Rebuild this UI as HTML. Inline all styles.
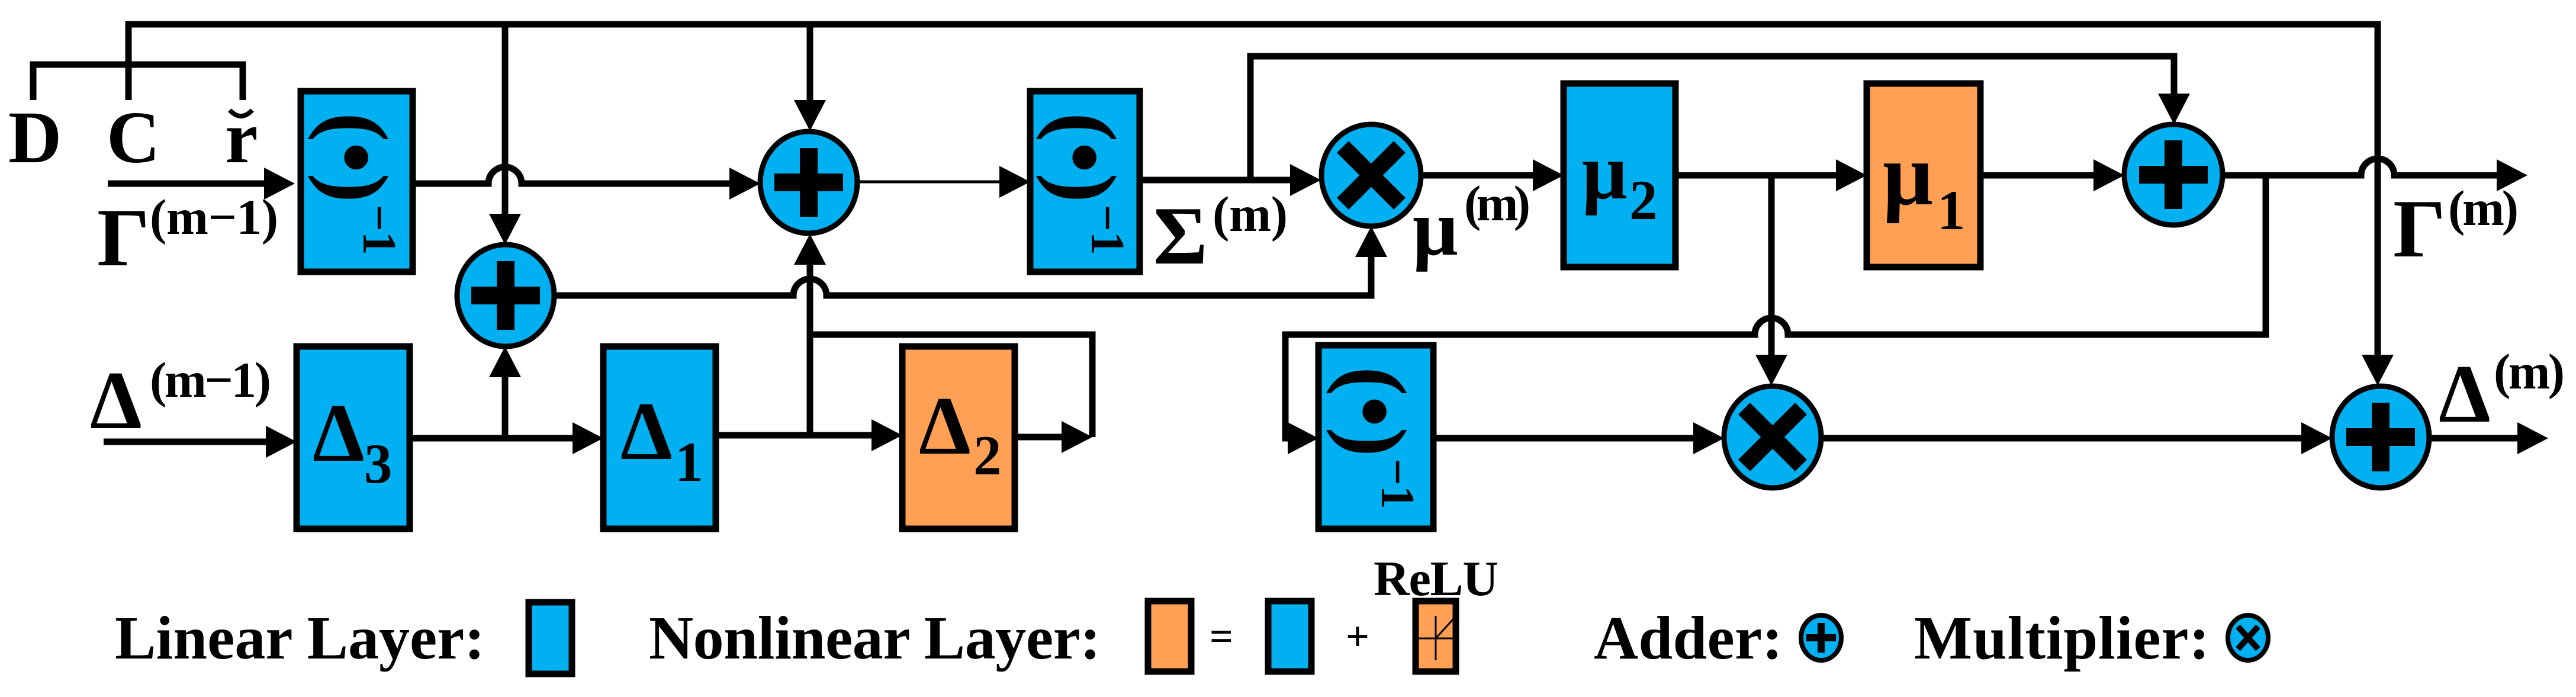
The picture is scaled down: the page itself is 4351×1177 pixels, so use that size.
<!DOCTYPE html>
<html><head><meta charset="utf-8"><style>
html,body{margin:0;padding:0;background:#fff;}
svg{display:block;}
text{font-family:"Liberation Serif",serif;font-weight:bold;fill:#000;}
</style></head><body>
<svg width="4351" height="1177" viewBox="0 0 4351 1177" xmlns="http://www.w3.org/2000/svg">
<defs>
<polygon id="ah" points="0,0 -52,-27 -52,27" fill="#000"/>
</defs>
<g fill="none" stroke="#000" stroke-width="11" stroke-linejoin="miter">
<path d="M217,169 V41 H4016 V610"/>
<path d="M853,41 V370"/>
<path d="M1368,41 V180"/>
<path d="M56,169 V109 H410 V169"/>
<path d="M182,310 H460"/>
<path d="M697,310 H825 a28,28 0 0 1 56,0 H1245"/>
<path d="M1448,307 H1700" stroke-width="5"/>
<path d="M1925,304 H2190"/>
<path d="M2112,304 V95 H3672 V170"/>
<path d="M937,499 H1340 a28,28 0 0 1 56,0 H2316 V425"/>
<path d="M175,746 H460"/>
<path d="M692,740 H980"/>
<path d="M853,740 V628"/>
<path d="M1209,735 H1485"/>
<path d="M1368,735 V438"/>
<path d="M1368,565 H1845 V738"/>
<path d="M1714,738 H1800"/>
<path d="M2400,296 H2600"/>
<path d="M2830,296 H3115"/>
<path d="M2992,296 V612"/>
<path d="M3345,296 H3550"/>
<path d="M3754,296 H3988 a28,28 0 0 1 56,0 H4230"/>
<path d="M3827,296 V565 H3020 a28,28 0 0 0 -56,0 H2171 V740 H2190"/>
<path d="M2421,740 H2870"/>
<path d="M3076,740 H3900"/>
<path d="M4103,740 H4265"/>
</g>
<use href="#ah" transform="translate(498,310)"/>
<use href="#ah" transform="translate(853,413) rotate(90)"/>
<use href="#ah" transform="translate(1368,221) rotate(90)"/>
<use href="#ah" transform="translate(1284,310)"/>
<use href="#ah" transform="translate(1740,307)"/>
<use href="#ah" transform="translate(2231,304)"/>
<use href="#ah" transform="translate(3672,210) rotate(90)"/>
<use href="#ah" transform="translate(2316,382) rotate(-90)"/>
<use href="#ah" transform="translate(501,746)"/>
<use href="#ah" transform="translate(1019,740)"/>
<use href="#ah" transform="translate(853,585) rotate(-90)"/>
<use href="#ah" transform="translate(1524,735)"/>
<use href="#ah" transform="translate(1368,395) rotate(-90)"/>
<use href="#ah" transform="translate(1845,738)"/>
<use href="#ah" transform="translate(2641,296)"/>
<use href="#ah" transform="translate(3153,296)"/>
<use href="#ah" transform="translate(2992,651) rotate(90)"/>
<use href="#ah" transform="translate(3588,296)"/>
<use href="#ah" transform="translate(4016,651) rotate(90)"/>
<use href="#ah" transform="translate(4269,296)"/>
<use href="#ah" transform="translate(2227,740)"/>
<use href="#ah" transform="translate(2912,740)"/>
<use href="#ah" transform="translate(3939,740)"/>
<use href="#ah" transform="translate(4304,740)"/>

<g stroke="#000" stroke-width="11">
<rect x="508" y="154" width="189" height="305" fill="#00B0F0"/>
<rect x="1740" y="154" width="185" height="305" fill="#00B0F0"/>
<rect x="501" y="585" width="191" height="308" fill="#00B0F0"/>
<rect x="1019" y="585" width="190" height="308" fill="#00B0F0"/>
<rect x="1524" y="585" width="190" height="308" fill="#FFA055"/>
<rect x="2641" y="141" width="189" height="310" fill="#00B0F0"/>
<rect x="3153" y="141" width="192" height="310" fill="#FFA055"/>
<rect x="2227" y="583" width="194" height="310" fill="#00B0F0"/>
</g>
<g stroke="#000" stroke-width="9" fill="#00B0F0">
<ellipse cx="854" cy="499" rx="82" ry="86"/>
<ellipse cx="1366" cy="308" rx="82" ry="86"/>
<ellipse cx="2316" cy="296" rx="84" ry="86"/>
<ellipse cx="3671" cy="295" rx="83" ry="85"/>
<ellipse cx="2994" cy="738" rx="82" ry="86"/>
<ellipse cx="4021" cy="738" rx="82" ry="86"/>
</g>
<g fill="#000">
<rect x="839" y="441" width="30" height="116"/><rect x="796" y="484" width="116" height="30"/>
<rect x="1351" y="250" width="30" height="116"/><rect x="1308" y="293" width="116" height="30"/>
<rect x="3656" y="237" width="30" height="116"/><rect x="3613" y="280" width="116" height="30"/>
<rect x="4006" y="680" width="30" height="116"/><rect x="3963" y="723" width="116" height="30"/>
</g>
<g stroke="#000" stroke-width="28">
<path d="M2268,248 L2364,344 M2364,248 L2268,344"/>
<path d="M2946,690 L3042,786 M3042,690 L2946,786"/>
</g>

<text transform="translate(602,266) rotate(90)" text-anchor="middle" dominant-baseline="central" font-size="150">(•)</text>
<text transform="translate(640,388) rotate(90)" text-anchor="middle" dominant-baseline="central" font-size="80">−1</text>
<text transform="translate(1832,266) rotate(90)" text-anchor="middle" dominant-baseline="central" font-size="150">(•)</text>
<text transform="translate(1870,388) rotate(90)" text-anchor="middle" dominant-baseline="central" font-size="80">−1</text>
<text transform="translate(2322,695) rotate(90)" text-anchor="middle" dominant-baseline="central" font-size="150">(•)</text>
<text transform="translate(2360,817) rotate(90)" text-anchor="middle" dominant-baseline="central" font-size="80">−1</text>

<text x="528" y="778" font-size="140">Δ</text><text x="615" y="815" font-size="95">3</text>
<text x="1048" y="775" font-size="140">Δ</text><text x="1140" y="812" font-size="95">1</text>
<text x="1552" y="766" font-size="140">Δ</text><text x="1644" y="801" font-size="95">2</text>
<text x="2672" y="335" font-size="135">μ</text><text x="2752" y="370" font-size="95">2</text>
<text x="3180" y="345" font-size="150">μ</text><text x="3272" y="387" font-size="95">1</text>

<text x="14" y="274" font-size="125">D</text>
<text x="180" y="274" font-size="125">C</text>
<text x="380" y="274" font-size="125">r</text>
<path d="M388,186 Q407,206 426,186" stroke="#000" stroke-width="8" fill="none"/>
<text x="164" y="448" font-size="140">Γ</text><text x="253" y="395" font-size="85" textLength="217">(m−1)</text>
<text x="152" y="723" font-size="140">Δ</text><text x="253" y="670" font-size="85" textLength="205">(m−1)</text>
<text x="1948" y="445" font-size="140">Σ</text><text x="2048" y="390" font-size="85" textLength="127">(m)</text>
<text x="2386" y="430" font-size="135">μ</text><text x="2473" y="372" font-size="85" textLength="112">(m)</text>
<text x="4042" y="433" font-size="140">Γ</text><text x="4135" y="380" font-size="85" textLength="119">(m)</text>
<text x="4119" y="712" font-size="140">Δ</text><text x="4212" y="656" font-size="85" textLength="120">(m)</text>

<text x="194" y="1112" font-size="104" textLength="625">Linear Layer:</text>
<rect x="893" y="1017" width="73" height="121" fill="#00B0F0" stroke="#000" stroke-width="11"/>
<text x="1096" y="1112" font-size="104" textLength="763">Nonlinear Layer:</text>
<rect x="1939" y="1015" width="73" height="119" fill="#FFA055" stroke="#000" stroke-width="11"/>
<text x="2043" y="1098" font-size="70">=</text>
<rect x="2142" y="1015" width="73" height="119" fill="#00B0F0" stroke="#000" stroke-width="11"/>
<text x="2273" y="1098" font-size="70" font-weight="normal">+</text>
<rect x="2391" y="1015" width="68" height="119" fill="#FFA055" stroke="#000" stroke-width="11"/>
<path d="M2425,1040 V1115 M2395,1078 H2455 M2425,1078 L2455,1045" stroke="#000" stroke-width="3" fill="none"/>
<text x="2320" y="1005" font-size="84" font-weight="normal" textLength="211">ReLU</text>
<text x="2692" y="1112" font-size="104" textLength="319">Adder:</text>
<ellipse cx="3076" cy="1077" rx="34" ry="38" fill="#00B0F0" stroke="#000" stroke-width="8"/>
<rect x="3070" y="1052" width="12" height="50" fill="#000"/><rect x="3051" y="1071" width="50" height="12" fill="#000"/>
<text x="3233" y="1112" font-size="104" textLength="499">Multiplier:</text>
<ellipse cx="3797" cy="1077" rx="34" ry="38" fill="#00B0F0" stroke="#000" stroke-width="8"/>
<path d="M3780,1058 L3814,1096 M3814,1058 L3780,1096" stroke="#000" stroke-width="10"/>
</svg>
</body></html>
